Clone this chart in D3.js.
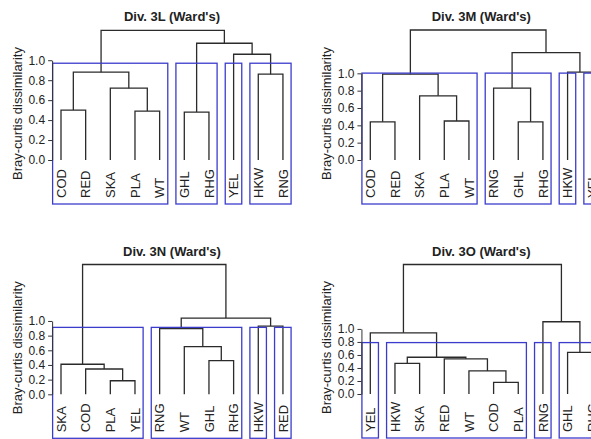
<!DOCTYPE html>
<html>
<head>
<meta charset="utf-8">
<script src="https://cdn.jsdelivr.net/npm/d3@7"></script>
<style>
  body { margin: 0; background: #fff; }
  svg { display: block; font-family: "Liberation Sans", Arial, sans-serif; }
</style>
</head>
<body>
<div id="chart"></div>
<script>
var width = 591;
var height = 439;

// Trees in R hclust form: negative = leaf number, positive = earlier merge row
var leaves3L = ["COD", "RED", "SKA", "PLA", "WT", "GHL", "RHG", "YEL", "HKW", "RNG"];
var merge3L = [[-1, -2], [-4, -5], [-6, -7], [-3, 2], [-9, -10], [1, 4], [-8, 5], [3, 7], [6, 8]];
var heights3L = [0.50, 0.49, 0.48, 0.72, 0.86, 0.88, 1.06, 1.17, 1.30];

var leaves3M = ["COD", "RED", "SKA", "PLA", "WT", "RNG", "GHL", "RHG", "HKW", "YEL"];
var merge3M = [[-1, -2], [-4, -5], [-7, -8], [-3, 2], [-6, 3], [1, 4], [-9, -10], [5, 7], [6, 8]];
var heights3M = [0.44, 0.45, 0.44, 0.74, 0.83, 0.99, 1.015, 1.24, 1.50];

var leaves3N = ["SKA", "COD", "PLA", "YEL", "RNG", "WT", "GHL", "RHG", "HKW", "RED"];
var merge3N = [[-3, -4], [-2, 1], [-1, 2], [-7, -8], [-6, 4], [-5, 5], [-9, -10], [6, 7], [3, 8]];
var heights3N = [0.185, 0.345, 0.41, 0.46, 0.65, 0.895, 0.93, 1.04, 1.77];

var leaves3O = ["YEL", "HKW", "SKA", "RED", "WT", "COD", "PLA", "RNG", "GHL", "RHG"];
var merge3O = [[-6, -7], [-5, 1], [-2, -3], [-4, 2], [3, 4], [-9, -10], [-1, 5], [-8, 6], [7, 8]];
var heights3O = [0.18, 0.355, 0.47, 0.54, 0.565, 0.64, 0.94, 1.11, 1.99];

var titles = ["Div. 3L (Ward's)", "Div. 3M (Ward's)", "Div. 3N (Ward's)", "Div. 3O (Ward's)"];
var yTicks = [0, 0.2, 0.4, 0.6, 0.8, 1.0];
var yTitle = "Bray-curtis dissimilarity";
var nClusters = 4;

// where each panel sits (leaf 1 x, zero line y, root y)
var panels = [
  { title: titles[0], leaves: leaves3L, merge: merge3L, heights: heights3L, x0: 61, y0: 160, y1: 30.3 },
  { title: titles[1], leaves: leaves3M, merge: merge3M, heights: heights3M, x0: 370.3, y0: 160, y1: 30 },
  { title: titles[2], leaves: leaves3N, merge: merge3N, heights: heights3N, x0: 61, y0: 394.3, y1: 264.5 },
  { title: titles[3], leaves: leaves3O, merge: merge3O, heights: heights3O, x0: 370.3, y0: 394, y1: 264.5 }
];
var step = 24.66;
var lineColor = "#2b2b2b";
var rectColor = "#3c3ccc";

var svg = d3.select("#chart")
  .append("svg")
    .attr("width", width)
    .attr("height", height);

panels.forEach(function(p) {
  var n = p.leaves.length;
  var maxH = d3.max(p.heights);

  var x = d3.scaleLinear()
    .domain([1, n])
    .range([p.x0, p.x0 + (n - 1) * step]);
  var y = d3.scaleLinear()
    .domain([0, maxH])
    .range([p.y0, p.y1]);

  // build nodes from the merge table
  var nodes = [];
  function nodeOf(k) {
    if (k < 0) return { name: p.leaves[-k - 1], index: -k, h: 0, x: x(-k), lo: -k, hi: -k };
    return nodes[k - 1];
  }
  p.merge.forEach(function(m, i) {
    var a = nodeOf(m[0]), b = nodeOf(m[1]);
    nodes.push({
      h: p.heights[i],
      children: [a, b],
      x: (a.x + b.x) / 2,
      lo: Math.min(a.lo, b.lo),
      hi: Math.max(a.hi, b.hi)
    });
  });
  var root = nodes[nodes.length - 1];

  var g = svg.append("g");

  // branches
  g.selectAll("path.branch")
    .data(nodes)
    .enter()
    .append("path")
      .attr("class", "branch")
      .attr("d", function(d) {
        var a = d.children[0], b = d.children[1];
        return "M" + a.x + "," + y(a.h) + "V" + y(d.h) + "H" + b.x + "V" + y(b.h);
      })
      .attr("fill", "none")
      .attr("stroke", lineColor)
      .attr("stroke-width", 1.3);

  // rect.hclust style boxes
  var sorted = p.heights.slice().sort(d3.descending);
  var cutH = (sorted[nClusters - 2] + sorted[nClusters - 1]) / 2;
  var clusters = [];
  (function cut(d) {
    if (d.children && d.h > cutH) {
      d.children.forEach(cut);
    } else {
      clusters.push(d);
    }
  })(root);
  var boxBottom = p.y0 + 44;

  g.selectAll("rect.clu")
    .data(clusters)
    .enter()
    .append("rect")
      .attr("class", "clu")
      .attr("x", function(d) { return x(d.lo - 0.34); })
      .attr("y", y(cutH))
      .attr("width", function(d) { return x(d.hi + 0.33) - x(d.lo - 0.34); })
      .attr("height", boxBottom - y(cutH))
      .attr("fill", "none")
      .attr("stroke", rectColor)
      .attr("stroke-width", 1.3);

  // leaf labels
  g.selectAll("text.leaf")
    .data(p.leaves)
    .enter()
    .append("text")
      .attr("class", "leaf")
      .attr("transform", function(d, i) {
        return "translate(" + x(i + 1) + "," + (p.y0 + 38) + ") rotate(-90)";
      })
      .attr("dy", "0.36em")
      .attr("text-anchor", "start")
      .attr("font-size", "13px")
      .attr("fill", "#222")
      .text(function(d) { return d; });

  // y axis, drawn only from 0 to 1 like base R
  var axisX = x(0.64);
  var yAxisScale = d3.scaleLinear().domain([0, 1]).range([y(0), y(1)]);
  var axis = g.append("g")
    .attr("transform", "translate(" + axisX + ",0)")
    .call(d3.axisLeft(yAxisScale)
      .tickValues(yTicks)
      .tickFormat(d3.format(".1f"))
      .tickSize(4)
      .tickSizeOuter(0)
      .tickPadding(3));
  axis.selectAll("path, line").attr("stroke", "#333");
  axis.selectAll("text")
    .attr("font-size", "12px")
    .attr("font-family", "Liberation Sans, Arial, sans-serif")
    .attr("fill", "#222");

  g.append("text")
    .attr("transform", "translate(" + (axisX - 30.6) + "," + (p.y0 - 46.5) + ") rotate(-90)")
    .attr("text-anchor", "middle")
    .attr("font-size", "13px")
    .attr("fill", "#222")
    .text(yTitle);

  // title
  g.append("text")
    .attr("x", (x(1) + x(n)) / 2)
    .attr("y", p.y1 - 9)
    .attr("text-anchor", "middle")
    .attr("font-size", "13px")
    .attr("font-weight", "bold")
    .attr("fill", "#222")
    .text(p.title);
});
</script>
</body>
</html>
